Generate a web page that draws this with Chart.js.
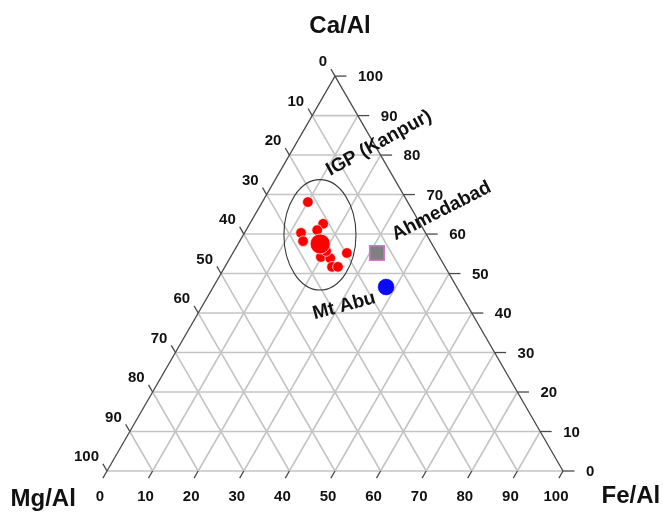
<!DOCTYPE html>
<html>
<head>
<meta charset="utf-8">
<script src="https://cdn.jsdelivr.net/npm/chart.js@4.4.1/dist/chart.umd.min.js"></script>
<style>
  html, body { margin: 0; padding: 0; background: #ffffff; }
  canvas { display: block; }
</style>
</head>
<body>
<canvas id="chart" width="663" height="515"></canvas>
<script>
// Ternary axis ticks (percent)
const tickValues = [0, 10, 20, 30, 40, 50, 60, 70, 80, 90, 100];
const gridValues = [10, 20, 30, 40, 50, 60, 70, 80, 90];

// IGP (Kanpur) samples: Ca/Al and Fe/Al shares, Mg/Al is the remainder
const kanpurCa = [68.1, 62.6, 61.0, 60.3, 58.2, 55.2, 54.2, 53.9, 51.7, 51.7, 55.7];
const kanpurFe = [10.0, 16.1, 15.6, 12.4, 13.9, 25.0, 19.8, 22.0, 23.5, 24.8, 20.2];
// IGP (Kanpur) average
const kanpurMeanCa = [57.5];
const kanpurMeanFe = [18.0];
// Ahmedabad
const ahmedabadCa = [55.2];
const ahmedabadFe = [31.6];
// Mt Abu
const mtAbuCa = [46.6];
const mtAbuFe = [37.9];

// Cartesian frame: base of the triangle runs x = 0..100, apex at y = 86.6
const H = Math.sqrt(3) / 2;
const PX_PER_UNIT = 4.56;
const X_MIN = -107 / PX_PER_UNIT;
const X_MAX = X_MIN + 663 / PX_PER_UNIT;
const Y_MAX = 471 / PX_PER_UNIT;
const Y_MIN = Y_MAX - 515 / PX_PER_UNIT;

// (Ca, Fe) -> cartesian point; Mg = 100 - Ca - Fe
function tern(ca, fe) {
  return { x: fe + ca / 2, y: ca * H };
}

const GRID = '#c4c4c4';
const EDGE = '#4a4a4a';
const TICK_LEN = 1.8;

const datasets = [];
function segment(a, b, color, width, order) {
  datasets.push({
    data: [a, b], showLine: true, pointRadius: 0, pointHoverRadius: 0,
    borderColor: color, borderWidth: width, order: order, fill: false
  });
}

// base line in grid grey
segment(tern(0, 0), tern(0, 100), GRID, 1.6, 5);
gridValues.forEach(v => {
  segment(tern(v, 0), tern(v, 100 - v), GRID, 1.6, 5);          // constant Ca
  segment(tern(0, v), tern(100 - v, v), GRID, 1.6, 5);          // constant Fe
  segment(tern(0, 100 - v), tern(100 - v, 0), GRID, 1.6, 5);    // constant Mg
});
// left (Fe = 0) and right (Mg = 0) edges
segment(tern(0, 0), tern(100, 0), EDGE, 1.3, 4);
segment(tern(0, 100), tern(100, 0), EDGE, 1.3, 4);

// tick marks
tickValues.forEach(v => {
  const b = tern(0, v);
  segment(b, { x: b.x - 0.5 * TICK_LEN, y: b.y - H * TICK_LEN }, EDGE, 1.3, 4);
  const r = tern(v, 100 - v);
  segment(r, { x: r.x + TICK_LEN * 1.4, y: r.y }, EDGE, 1.3, 4);
  const l = tern(100 - v, 0);
  segment(l, { x: l.x - 0.5 * TICK_LEN, y: l.y + H * TICK_LEN }, EDGE, 1.3, 4);
});

// samples
datasets.push({
  data: kanpurCa.map((ca, i) => tern(ca, kanpurFe[i])),
  pointRadius: 5.3, backgroundColor: '#ff0000', borderColor: 'rgba(255,235,235,0.9)',
  borderWidth: 0.8, order: 2
});
datasets.push({
  data: kanpurMeanCa.map((ca, i) => tern(ca, kanpurMeanFe[i])),
  pointRadius: 10, backgroundColor: '#ff0000', borderColor: 'rgba(255,235,235,0.9)',
  borderWidth: 0.8, order: 1
});
datasets.push({
  data: ahmedabadCa.map((ca, i) => tern(ca, ahmedabadFe[i])),
  pointStyle: 'rect', pointRadius: 10.2, backgroundColor: '#808080', borderColor: '#cc77cc',
  borderWidth: 1.6, order: 1
});
datasets.push({
  data: mtAbuCa.map((ca, i) => tern(ca, mtAbuFe[i])),
  pointRadius: 8, backgroundColor: '#0a0af5', borderColor: '#0a0af5',
  borderWidth: 0.5, order: 1
});

// IGP envelope (centre in Ca/Fe, radii in cartesian units)
const envelope = { ca: 59.8, fe: 16.8, rx: 7.9, ry: 12.1 };

const textLabels = [
  { text: 'IGP (Kanpur)', x: 59.65, y: 71.9, angle: -29, size: 19 },
  { text: 'Ahmedabad', x: 73.35, y: 57.0, angle: -27, size: 19 },
  { text: 'Mt Abu', x: 52.0, y: 36.2, angle: -15, size: 19 }
];
const axisTitles = [
  { text: 'Ca/Al', x: 51.1, y: 97.6 },
  { text: 'Mg/Al', x: -14.0, y: -6.2 },
  { text: 'Fe/Al', x: 114.9, y: -5.5 }
];

const FONT = '"Liberation Sans", Arial, sans-serif';

const ternaryText = {
  id: 'ternaryText',
  afterDatasetsDraw(chart) {
    const { ctx, scales: { x, y } } = chart;
    const P = p => [x.getPixelForValue(p.x), y.getPixelForValue(p.y)];
    ctx.save();

    // envelope around the Kanpur cluster
    const c = tern(envelope.ca, envelope.fe);
    const [cx, cy] = P(c);
    const rx = x.getPixelForValue(c.x + envelope.rx) - cx;
    const ry = cy - y.getPixelForValue(c.y + envelope.ry);
    ctx.beginPath();
    ctx.ellipse(cx, cy, rx, ry, 0, 0, Math.PI * 2);
    ctx.strokeStyle = '#3a3a3a';
    ctx.lineWidth = 1.1;
    ctx.stroke();

    // tick labels
    ctx.fillStyle = '#111';
    ctx.font = 'bold 15px ' + FONT;
    tickValues.forEach(v => {
      const [bx, by] = P(tern(0, v));
      ctx.textAlign = 'center'; ctx.textBaseline = 'middle';
      ctx.fillText(String(v), bx - 7, by + 26);
      const [rx2, ry2] = P(tern(v, 100 - v));
      ctx.textAlign = 'left';
      ctx.fillText(String(v), rx2 + 23, ry2 + 1);
      const [lx, ly] = P(tern(100 - v, 0));
      ctx.textAlign = 'right';
      ctx.fillText(String(v), lx - 8, ly - 14);
    });

    // site labels
    textLabels.forEach(t => {
      const [tx, ty] = P(t);
      ctx.save();
      ctx.translate(tx, ty);
      ctx.rotate(t.angle * Math.PI / 180);
      ctx.font = 'bold ' + t.size + 'px ' + FONT;
      ctx.textAlign = 'center'; ctx.textBaseline = 'middle';
      ctx.fillText(t.text, 0, 0);
      ctx.restore();
    });

    // axis titles
    ctx.font = 'bold 24px ' + FONT;
    ctx.textAlign = 'center'; ctx.textBaseline = 'middle';
    axisTitles.forEach(t => {
      const [tx, ty] = P(t);
      ctx.fillText(t.text, tx, ty);
    });
    ctx.restore();
  }
};

new Chart(document.getElementById('chart'), {
  type: 'scatter',
  data: { datasets },
  options: {
    responsive: false,
    animation: false,
    layout: { padding: 0, autoPadding: false },
    plugins: { legend: { display: false }, tooltip: { enabled: false } },
    scales: {
      x: { type: 'linear', min: X_MIN, max: X_MAX, display: false },
      y: { type: 'linear', min: Y_MIN, max: Y_MAX, display: false }
    },
    elements: { line: { tension: 0 } }
  },
  plugins: [ternaryText]
});
</script>
</body>
</html>
